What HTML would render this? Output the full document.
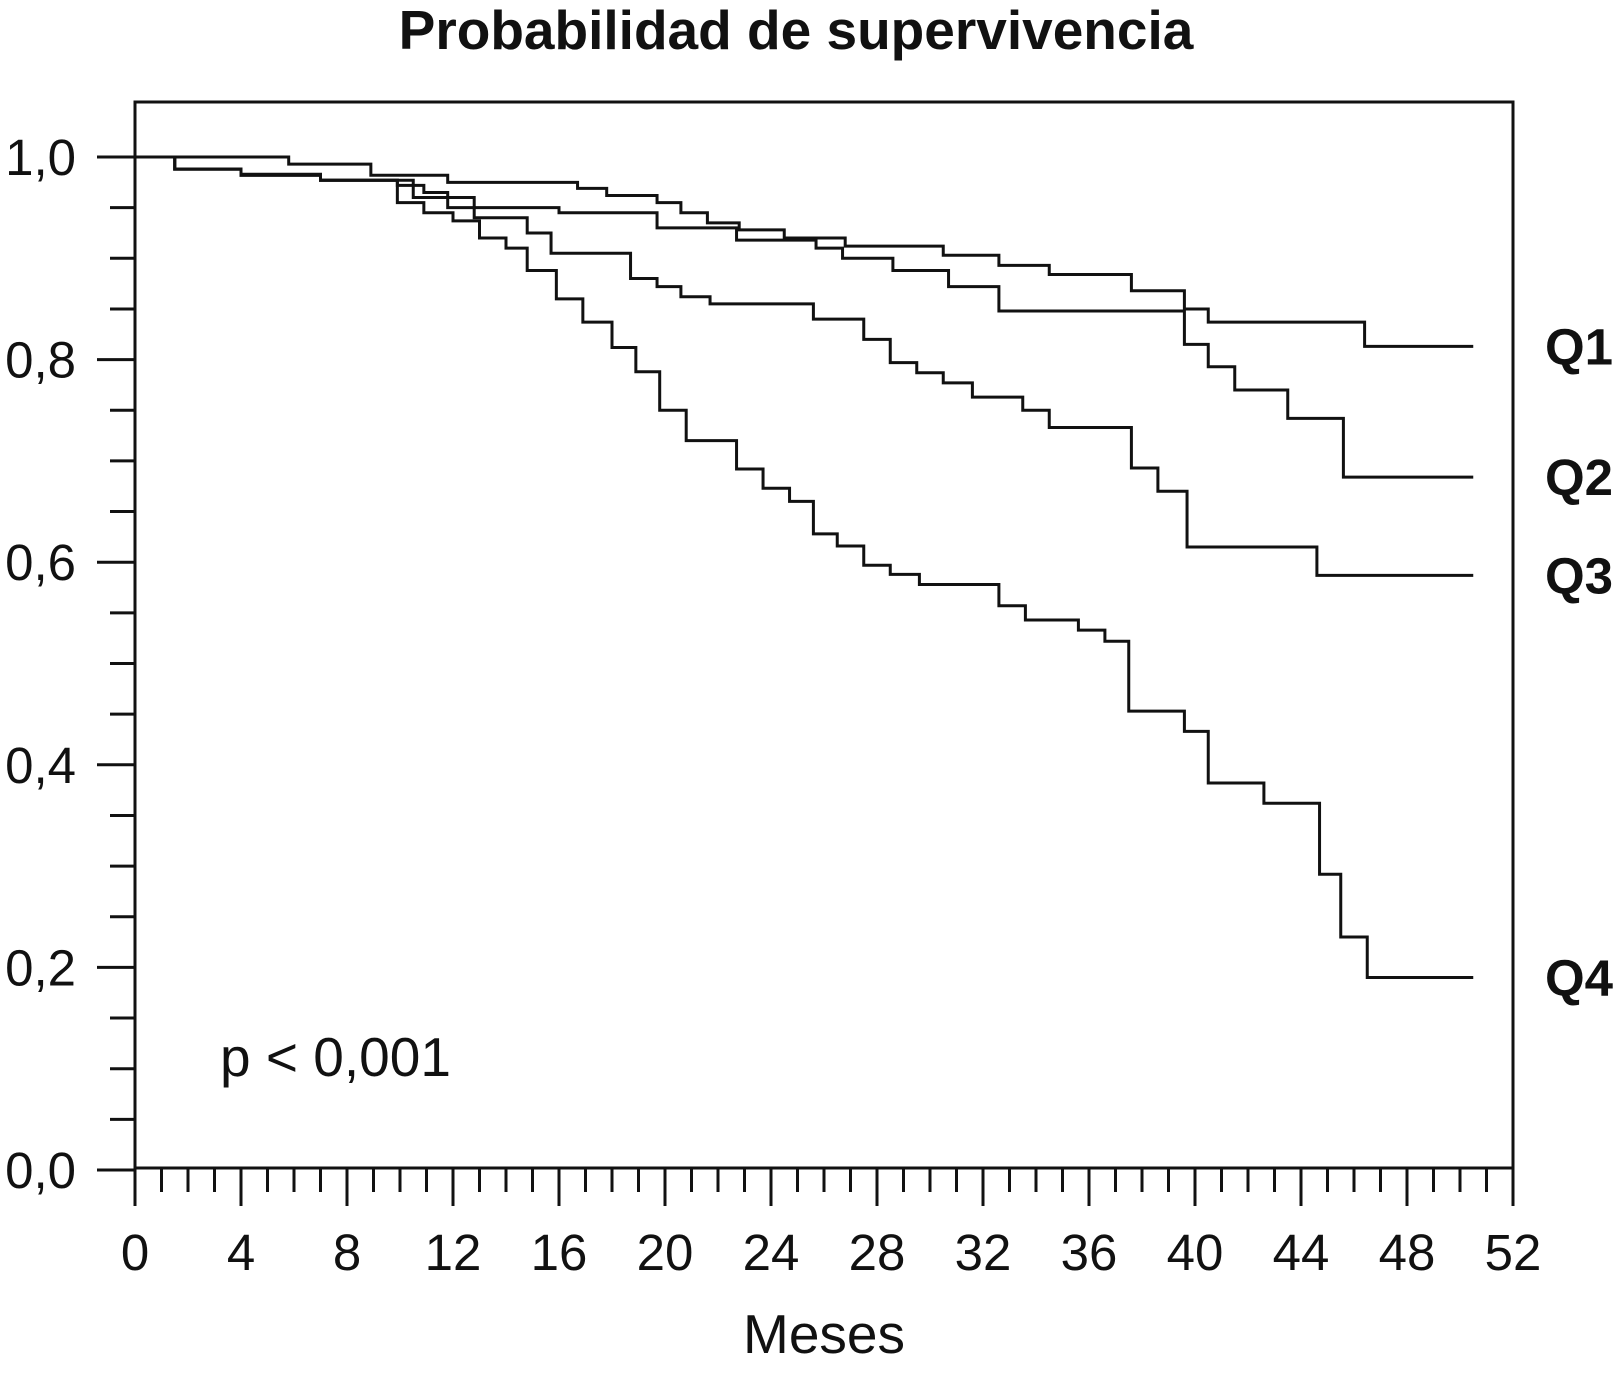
<!DOCTYPE html>
<html><head><meta charset="utf-8"><style>
html,body{margin:0;padding:0;background:#fff}
svg text{font-family:"Liberation Sans",Arial,sans-serif;fill:#111}
</style></head><body>
<svg id="chart" width="1619" height="1369" viewBox="0 0 1619 1369" xmlns="http://www.w3.org/2000/svg">
<text x="796" y="49" font-size="55" font-weight="bold" text-anchor="middle">Probabilidad de supervivencia</text>
<rect x="135" y="102" width="1378" height="1066" fill="none" stroke="#111" stroke-width="3"/>
<g id="axes"></g>
<g id="curves"></g>
<text x="220" y="1076" font-size="55">p &lt; 0,001</text>
<text x="824" y="1353" font-size="55" text-anchor="middle">Meses</text>
</svg>
<script>
const xTicks=[0,4,8,12,16,20,24,28,32,36,40,44,48,52];
const yTicks=[0,0.2,0.4,0.6,0.8,1.0];
const yTickLabels=["0,0","0,2","0,4","0,6","0,8","1,0"];
const seriesNames=["Q1","Q2","Q3","Q4"];
const endTime=50.5;
const q1Times=[0,5.8,8.9,11.8,16.7,17.8,19.7,20.6,21.6,22.8,24.5,26.8,30.5,32.6,34.5,37.6,39.6,40.5,46.4];
const q1Surv=[1.0,0.993,0.982,0.975,0.969,0.962,0.955,0.945,0.935,0.928,0.92,0.912,0.903,0.893,0.884,0.868,0.85,0.837,0.813];
const q2Times=[0,1.5,4,7,10.5,12.8,16,19.7,22.7,25.7,26.7,28.6,30.7,32.6,39.6,40.5,41.5,43.5,45.6];
const q2Surv=[1.0,0.988,0.982,0.977,0.96,0.95,0.945,0.93,0.918,0.91,0.9,0.888,0.872,0.848,0.815,0.793,0.77,0.742,0.684];
const q3Times=[0,1.5,4,7,9.9,10.9,11.8,12.8,14.8,15.7,18.7,19.7,20.6,21.7,25.6,27.5,28.5,29.5,30.5,31.6,33.5,34.5,37.6,38.6,39.7,44.6];
const q3Surv=[1.0,0.988,0.982,0.977,0.972,0.965,0.95,0.94,0.925,0.905,0.88,0.872,0.862,0.855,0.84,0.82,0.797,0.787,0.777,0.763,0.75,0.733,0.693,0.67,0.615,0.587];
const q4Times=[0,1.5,4,7,9.9,10.9,12,13,14,14.8,15.9,16.9,18,18.9,19.8,20.8,22.7,23.7,24.7,25.6,26.5,27.5,28.5,29.6,32.6,33.6,35.6,36.6,37.5,39.6,40.5,42.6,44.7,45.5,46.5];
const q4Surv=[1.0,0.988,0.983,0.977,0.955,0.945,0.937,0.92,0.91,0.888,0.86,0.837,0.812,0.788,0.75,0.72,0.692,0.673,0.66,0.628,0.616,0.597,0.588,0.578,0.557,0.543,0.533,0.522,0.453,0.433,0.382,0.362,0.292,0.23,0.19];

const NS="http://www.w3.org/2000/svg";
const X=t=>135+t*26.5;
const Y=v=>1170-v*1013;
const axes=document.getElementById('axes');
const curves=document.getElementById('curves');
function mk(tag,attrs,parent){const e=document.createElementNS(NS,tag);for(const k in attrs)e.setAttribute(k,attrs[k]);parent.appendChild(e);return e;}

for(let m=0;m<=52;m++){
  const major=m%4===0;
  const t=mk('line',{x1:X(m),x2:X(m),y1:1168,y2:major?1206:1192,stroke:'#111','stroke-width':3},axes);
  
  
}
xTicks.forEach(m=>{
  const l=mk('text',{x:X(m),y:1270,'font-size':51,'text-anchor':'middle'},axes);
  l.textContent=m;
  
  
});
for(let i=0;i<=20;i++){
  const v=i*0.05;const major=i%4===0;
  const t=mk('line',{x1:major?97:110,x2:135,y1:Y(v),y2:Y(v),stroke:'#111','stroke-width':3},axes);
  
  
}
yTicks.forEach((v,i)=>{
  const l=mk('text',{x:76,y:Y(v)+18,'font-size':51,'text-anchor':'end'},axes);
  l.textContent=yTickLabels[i];
  
  
});
const all=[[q1Times,q1Surv],[q2Times,q2Surv],[q3Times,q3Surv],[q4Times,q4Surv]];
all.forEach(([ts,ss],k)=>{
  let d='M'+X(ts[0])+','+Y(ss[0]);
  for(let i=1;i<ts.length;i++){d+=' H'+X(ts[i])+' V'+Y(ss[i]);}
  d+=' H'+X(endTime);
  const p=mk('path',{d:d,fill:'none',stroke:'#111','stroke-width':3},curves);
  
  
  const lab=mk('text',{x:1545,y:Y(ss[ss.length-1])+18,'font-size':51,'font-weight':'bold'},curves);
  lab.textContent=seriesNames[k];
  
  
});
</script>
</body></html>
